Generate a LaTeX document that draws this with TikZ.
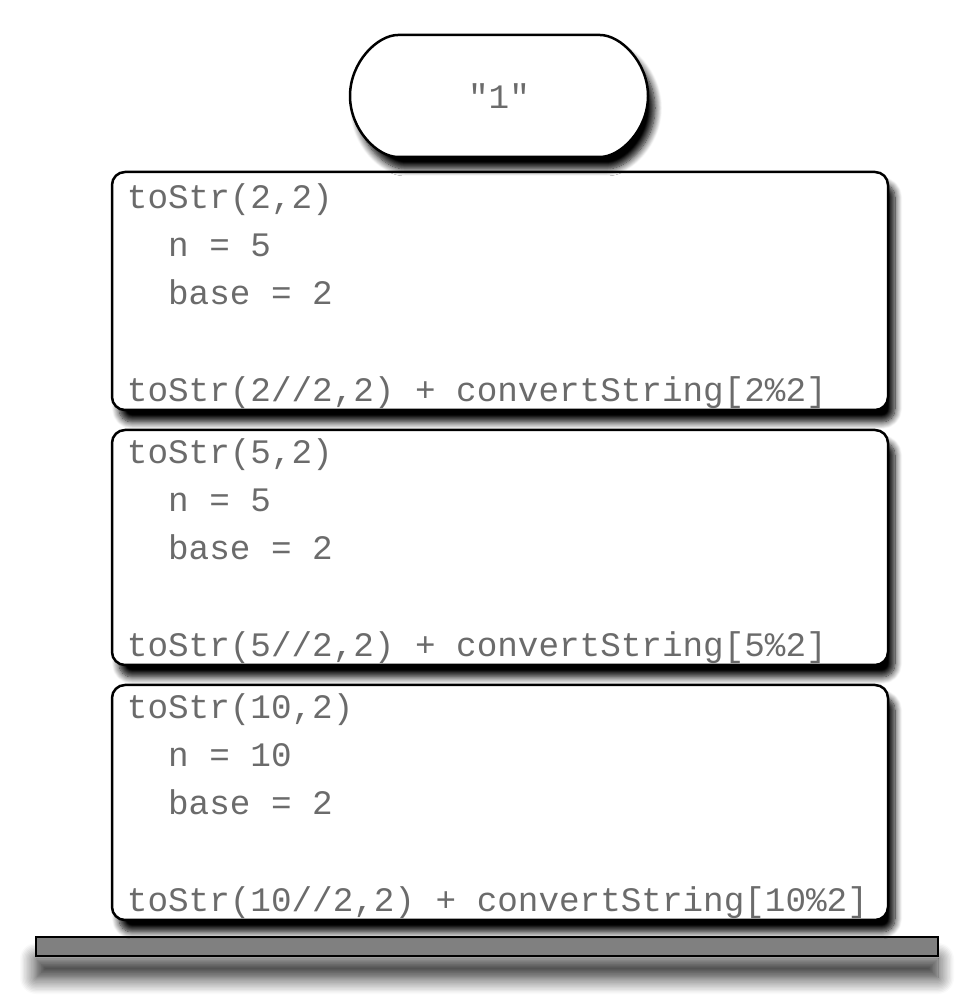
\documentclass[tikz,border=0pt]{standalone}
\usepackage{fontspec}
\newfontfamily\codefont{Liberation Mono}
\usetikzlibrary{shapes.misc,shadows.blur}
\tikzset{
  frame/.style={draw=black, line width=2.5pt, fill=white, rounded corners=13pt,
    blur shadow={shadow xshift=7pt, shadow yshift=-12pt, shadow blur radius=7pt, shadow blur steps=10, shadow opacity=100}},
  codetext/.style={inner sep=0pt, align=left, text=black!58, font=\codefont\fontsize{34.3}{48}\selectfont}
}
\begin{document}
\begin{tikzpicture}[x=1pt,y=1pt]
            \useasboundingbox (0,0) rectangle (968,995);
            % the floor under the stack
            \node[draw=black, line width=2.5pt, fill=black!50, minimum width=902pt, minimum height=19pt, inner sep=0pt,
              blur shadow={shadow xshift=0pt, shadow yshift=-22pt, shadow blur radius=16pt, shadow blur steps=12, shadow opacity=85}] (floor) at (487,48.5) {};
            % stack frames, bottom up
            \node[frame, minimum width=776pt, minimum height=235pt, inner sep=0pt] (call10) at (500,192.5) {};
            \node[frame, minimum width=776pt, minimum height=235pt, inner sep=0pt] (call5) at (500,447.5) {};
            \node[frame, minimum width=776pt, minimum height=238pt, inner sep=0pt] (call2) at (500,704) {};
            \node[frame, rounded rectangle, minimum width=298pt, minimum height=122pt, inner sep=0pt] (one) at (499,899) {};
            \node[codetext] at (one.center) {"1"};
            % frame texts (base = last of the three lines)
            \node[codetext, anchor=base west] (call2a) at ([shift={(16,-134)}]call2.north west) {toStr(2,2)\\\ \ n = 5\\\ \ base = 2};
            \node[codetext, anchor=base west] (call2b) at ([shift={(16,10)}]call2.south west) {toStr(2//2,2) + convertString[2\%2]};
            \node[codetext, anchor=base west] (call5a) at ([shift={(16,-131)}]call5.north west) {toStr(5,2)\\\ \ n = 5\\\ \ base = 2};
            \node[codetext, anchor=base west] (call5b) at ([shift={(16,10)}]call5.south west) {toStr(5//2,2) + convertString[5\%2]};
            \node[codetext, anchor=base west] (call10a) at ([shift={(16,-131)}]call10.north west) {toStr(10,2)\\\ \ n = 10\\\ \ base = 2};
            \node[codetext, anchor=base west] (call10b) at ([shift={(16,10)}]call10.south west) {toStr(10//2,2) + convertString[10\%2]};
\end{tikzpicture}
\end{document}
